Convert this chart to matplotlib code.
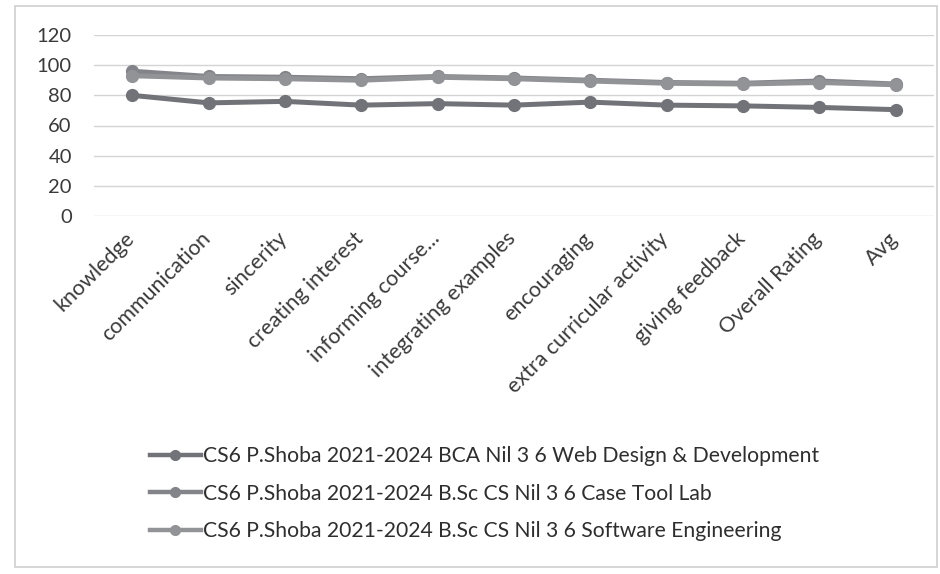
import matplotlib
matplotlib.use("Agg")
import matplotlib.pyplot as plt
from matplotlib.patches import Rectangle

categories = ["knowledge", "communication", "sincerity", "creating interest",
              "informing course...", "integrating examples", "encouraging",
              "extra curricular activity", "giving feedback", "Overall Rating", "Avg"]
web_design = [80, 75, 76, 73.5, 74.5, 73.5, 75.5, 73.5, 73, 72, 70.5]
case_tool = [96, 92.5, 92, 91, 92.5, 91.5, 90, 88.5, 88, 89.5, 87.5]
soft_eng = [93, 91.5, 91, 90, 92, 91, 89.5, 88, 87.5, 88.5, 87]
labels = ["CS6 P.Shoba 2021-2024 BCA Nil 3 6 Web Design & Development",
          "CS6 P.Shoba 2021-2024 B.Sc CS Nil 3 6 Case Tool Lab",
          "CS6 P.Shoba 2021-2024 B.Sc CS Nil 3 6 Software Engineering"]
yticks = [0, 20, 40, 60, 80, 100, 120]

plt.rcParams['font.family'] = ['Lato', 'DejaVu Sans']

W, H = 940, 574
fig = plt.figure(figsize=(W / 100, H / 100), dpi=100)
fig.patch.set_facecolor("white")

ax = fig.add_axes([94 / W, 1 - 216 / H, (934 - 94) / W, (216 - 35) / H])
x = list(range(len(categories)))
series = [web_design, case_tool, soft_eng]
colors = ["#727378", "#838489", "#929397"]
for vals, c, lab in zip(series, colors, labels):
    ax.plot(x, vals, color=c, lw=3.6, marker="o", markersize=8.5,
            markerfacecolor=c, markeredgecolor=c, label=lab, zorder=3)

ax.set_xlim(-0.5, len(categories) - 0.5)
ax.set_ylim(0, 120)
ax.set_yticks(yticks)
ax.set_yticklabels([str(v) for v in yticks], fontsize=14.5, color="#3a3a3a")
ax.set_xticks(x)
ax.set_xticklabels([])
for i, cat in enumerate(categories):
    ax.annotate(cat, xy=(i, 0), xycoords=("data", "axes fraction"),
                xytext=(-6, -9), textcoords="offset points",
                rotation=45, ha="right", va="top", rotation_mode="anchor",
                fontsize=15.5, color="#3a3a3a", annotation_clip=False)
ax.tick_params(axis="x", length=0)
ax.tick_params(axis="y", length=0, pad=16)
ax.grid(axis="y", color="#d4d4d4", lw=1)
for s in ax.spines.values():
    s.set_visible(False)
ax.set_axisbelow(True)

handles, labs = ax.get_legend_handles_labels()
leg = fig.legend(handles, labs, loc="upper left",
                 bbox_to_anchor=(150 / W, 1 - 446 / H), frameon=False,
                 fontsize=15.2, handlelength=2.4, handletextpad=0.1,
                 labelspacing=0.83, borderaxespad=0, borderpad=0)
for t in leg.get_texts():
    t.set_color("#2e2e2e")
for h in leg.legend_handles:
    h.set_markersize(7)
    h.set_linewidth(3.2)

fig.patches.append(Rectangle((15 / W, 1 - 567 / H), (937 - 15) / W, (567 - 6) / H,
                             transform=fig.transFigure, fill=False,
                             edgecolor="#cfcfcf", lw=1.2))

fig.savefig("out.png", dpi=100)
